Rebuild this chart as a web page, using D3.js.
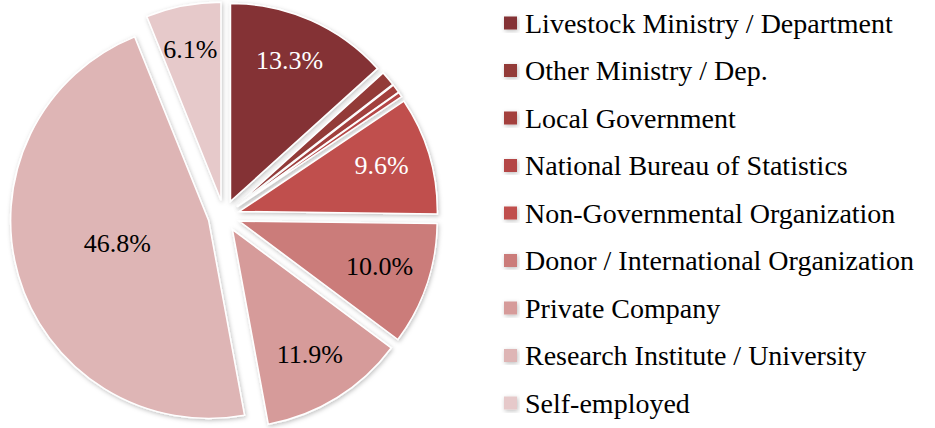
<!DOCTYPE html>
<html>
<head>
<meta charset="utf-8">
<script src="https://cdnjs.cloudflare.com/ajax/libs/d3/7.8.5/d3.min.js"></script>
<style>
  body { margin: 0; background: #fff; }
  svg { display: block; }
</style>
</head>
<body>
<div id="chart"></div>
<script>
// employer categories and share of respondents (%)
var categories = [
    "Livestock Ministry / Department",
    "Other Ministry / Dep.",
    "Local Government",
    "National Bureau of Statistics",
    "Non-Governmental Organization",
    "Donor / International Organization",
    "Private Company",
    "Research Institute / University",
    "Self-employed"
];
var shares = [13.3, 1.2, 0.7, 0.4, 9.6, 10.0, 11.9, 46.8, 6.1];
var labels = ["13.3%", "", "", "", "9.6%", "10.0%", "11.9%", "46.8%", "6.1%"];
var colors = ["#843234", "#933a39", "#a33f3e", "#b44646", "#c0504d",
              "#cb7b7a", "#d69b9a", "#deb5b5", "#e6c9ca"];
var labelColors = ["#fff", "#fff", "#fff", "#fff", "#fff", "#000", "#000", "#000", "#000"];

var width = 935, height = 428;
var cx = 224, cy = 216, radius = 198, explode = 16;
var fontFamily = "Liberation Serif, Tinos, Georgia, DejaVu Serif, serif";

var svg = d3.select("#chart")
    .append("svg")
    .attr("width", width)
    .attr("height", height)
    .attr("font-family", fontFamily);

var defs = svg.append("defs");
var filter = defs.append("filter").attr("id", "shadow")
    .attr("x", "-20%").attr("y", "-20%").attr("width", "140%").attr("height", "140%");
filter.append("feDropShadow")
    .attr("dx", 1).attr("dy", 1.5).attr("stdDeviation", 2)
    .attr("flood-color", "#000").attr("flood-opacity", 0.25);

var data = categories.map(function (c, i) {
    return { name: c, value: shares[i], label: labels[i], color: colors[i], tc: labelColors[i] };
});

var pie = d3.pie().sort(null).value(function (d) { return d.value; });
var arc = d3.arc().innerRadius(0).outerRadius(radius);
// big slices get their label nearer the centre, like the original
var labelArc = d3.arc().innerRadius(radius * 0.76).outerRadius(radius * 0.76);
var bigLabelArc = d3.arc().innerRadius(radius * 0.47).outerRadius(radius * 0.47);

var arcs = pie(data);

var g = svg.append("g").attr("transform", "translate(" + cx + "," + cy + ")");

var slices = g.selectAll("g.slice")
    .data(arcs)
    .enter()
    .append("g")
    .attr("class", "slice")
    .attr("transform", function (d) {
        var a = (d.startAngle + d.endAngle) / 2;
        return "translate(" + (Math.sin(a) * explode) + "," + (-Math.cos(a) * explode) + ")";
    });

slices.append("path")
    .attr("d", arc)
    .attr("fill", function (d) { return d.data.color; })
    .attr("stroke", "#fff")
    .attr("stroke-width", 1.5)
    .attr("filter", "url(#shadow)");

slices.append("text")
    .attr("transform", function (d) {
        var p = (d.data.value > 40 ? bigLabelArc : labelArc).centroid(d);
        return "translate(" + (p[0] - 2) + "," + (p[1] - 4) + ")";
    })
    .attr("text-anchor", "middle")
    .attr("dy", "0.35em")
    .attr("font-size", 26)
    .attr("fill", function (d) { return d.data.tc; })
    .text(function (d) { return d.data.label; });

// legend
var legend = svg.append("g").attr("transform", "translate(504,23)");
var rowH = 47.5;

var items = legend.selectAll("g.item")
    .data(data)
    .enter()
    .append("g")
    .attr("class", "item")
    .attr("transform", function (d, i) { return "translate(0," + (i * rowH) + ")"; });

items.append("rect")
    .attr("x", 0)
    .attr("y", -6.5)
    .attr("width", 13)
    .attr("height", 13)
    .attr("fill", function (d) { return d.color; })
    .attr("filter", "url(#shadow)");

items.append("text")
    .attr("x", 21)
    .attr("dy", "0.35em")
    .attr("font-size", 28)
    .attr("fill", "#000")
    .text(function (d) { return d.name; });
</script>
</body>
</html>
